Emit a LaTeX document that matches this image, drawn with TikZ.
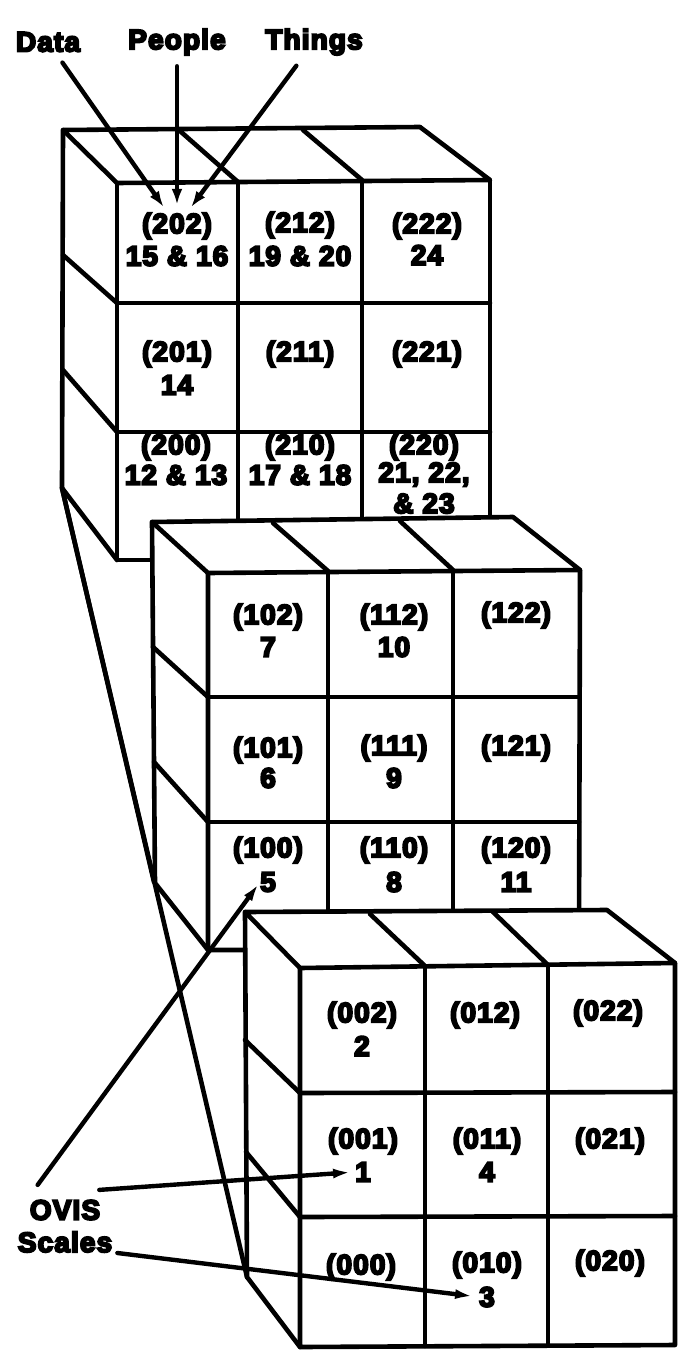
\documentclass[tikz,border=0pt]{standalone}
\usepackage{fontspec}
\setmainfont{Liberation Sans}[BoldFeatures={FakeBold=7,LetterSpace=4}]
\usetikzlibrary{arrows.meta}
\tikzset{
  edge/.style={line width=4.6pt, line join=round, line cap=round},
  lbl/.style={font=\bfseries\fontsize{28}{31}\selectfont, inner sep=0pt, align=center},
  ptr/.style={line width=4.4pt, line cap=round, -{Latex[length=16pt,width=11pt]}},
  longptr/.style={line width=4.4pt, line cap=round, -{Latex[length=18pt,width=10pt]}},
  cover/.style={fill=white},
}
% a cell's code line and its scale number(s)
\newcommand\codecell[4]{\node[lbl] (c#1) at (#2,#3) {#4};}
\newcommand\numcell[4]{\node[lbl] (n#1) at (#2,#3) {#4};}

\begin{document}
\begin{tikzpicture}[x=1pt,y=-1pt]
\useasboundingbox (0,0) rectangle (683,1362);

% ---------- back block (first digit 2) ----------
\codecell{202}{177}{226}{(202)} \numcell{202}{177}{256}{15 \& 16}
\codecell{212}{300}{225}{(212)} \numcell{212}{300}{256}{19 \& 20}
\codecell{222}{427}{226}{(222)} \numcell{222}{427}{255}{24}
\codecell{201}{177}{354}{(201)} \numcell{201}{177}{385}{14}
\codecell{211}{300}{354}{(211)}
\codecell{221}{427}{354}{(221)}
\codecell{200}{176}{447}{(200)} \numcell{200}{176}{475}{12 \& 13}
\codecell{210}{300}{447}{(210)} \numcell{210}{300}{475}{17 \& 18}
\codecell{220}{424}{447}{(220)} \numcell{220}{424}{488}{21, 22,\\\& 23}

\draw[edge] (63,130) -- (420,127) -- (490,180) -- (117,183) -- cycle;
\draw[edge] (180,131) -- (238,182) (303,130) -- (362,180);
\draw[edge] (63,130) -- (62,488) -- (117,560);
\draw[edge] (63,255) -- (117,303) (63,370) -- (117,432);
\draw[edge] (117,183) -- (117,560) -- (490,560) -- (490,180);
\draw[edge] (238,182) -- (238,560) (362,181) -- (362,560);
\draw[edge] (117,303) -- (490,303) (117,432) -- (490,432);

% lines tying the back block to the blocks in front
\draw[edge] (62,488) -- (154,882);
\draw[edge] (62,488) -- (247,1277);

% ---------- middle block (first digit 1) ----------
\fill[cover] (152,522) -- (513,517) -- (580,570) -- (579,950) -- (208,950) -- (155,883) -- cycle;
\codecell{102}{268}{617}{(102)} \numcell{102}{268}{647}{7}
\codecell{112}{394}{617}{(112)} \numcell{112}{394}{647}{10}
\codecell{122}{516}{615}{(122)}
\codecell{101}{268}{750}{(101)} \numcell{101}{268}{778}{6}
\codecell{111}{394}{748}{(111)} \numcell{111}{394}{778}{9}
\codecell{121}{516}{748}{(121)}
\codecell{100}{268}{850}{(100)} \numcell{100}{268}{882}{5}
\codecell{110}{394}{850}{(110)} \numcell{110}{394}{882}{8}
\codecell{120}{516}{850}{(120)} \numcell{120}{516}{882}{11}

\draw[edge] (152,522) -- (513,517) -- (580,570) -- (208,573) -- cycle;
\draw[edge] (273,523) -- (328,571) (400,521) -- (453,570);
\draw[edge] (152,522) -- (155,883) -- (208,950);
\draw[edge] (153,647) -- (208,697) (154,762) -- (208,822);
\draw[edge] (208,573) -- (208,950) -- (579,950) -- (580,570);
\draw[edge] (328,572) -- (328,950) (453,571) -- (453,950);
\draw[edge] (208,697) -- (579,697) (208,822) -- (579,822);

% ---------- front block (first digit 0) ----------
\fill[cover] (245,912) -- (607,910) -- (675,963) -- (675,1345) -- (300,1347) -- (247,1277) -- cycle;
\codecell{002}{362}{1015}{(002)} \numcell{002}{362}{1046}{2}
\codecell{012}{485}{1015}{(012)}
\codecell{022}{608}{1013}{(022)}
\codecell{001}{363}{1141}{(001)} \numcell{001}{363}{1172}{1}
\codecell{011}{487}{1141}{(011)} \numcell{011}{487}{1172}{4}
\codecell{021}{610}{1141}{(021)}
\codecell{000}{361}{1267}{(000)}
\codecell{010}{487}{1265}{(010)} \numcell{010}{487}{1297}{3}
\codecell{020}{610}{1263}{(020)}

\draw[edge] (245,912) -- (607,910) -- (675,963) -- (300,968) -- cycle;
\draw[edge] (370,914) -- (425,966) (493,912) -- (548,965);
\draw[edge] (245,912) -- (247,1277) -- (300,1347);
\draw[edge] (245,1040) -- (300,1093) (246,1152) -- (300,1217);
\draw[edge] (300,968) -- (300,1347) -- (675,1345) -- (675,963);
\draw[edge] (425,966) -- (425,1346) (548,965) -- (548,1345);
\draw[edge] (300,1093) -- (675,1092) (300,1217) -- (675,1216);

% ---------- axis labels ----------
\node[lbl] (data)   at (48,42)  {Data};
\node[lbl] (people) at (177,42) {People};
\node[lbl] (things) at (314,42) {Things};
\draw[ptr, shorten <=13pt, shorten >=7pt] (data) -- (c202);
\draw[ptr, shorten <=11pt, shorten >=8pt] (people) -- (c202);
\draw[ptr, shorten <=13pt, shorten >=7pt] (things) -- (c202);

\node[lbl] (ovis)   at (65,1210) {OVIS};
\node[lbl] (scales) at (65,1242) {Scales};
\draw[longptr, shorten >=2pt] ([shift={(8,-15)}]ovis.north west) -- (n100.west);
\draw[longptr, shorten >=4pt] ([shift={(-1,-10)}]ovis.north east) -- (n001.west);
\draw[longptr, shorten >=6pt] ([shift={(5,11)}]scales.east) -- (n010.west);
\end{tikzpicture}
\end{document}
